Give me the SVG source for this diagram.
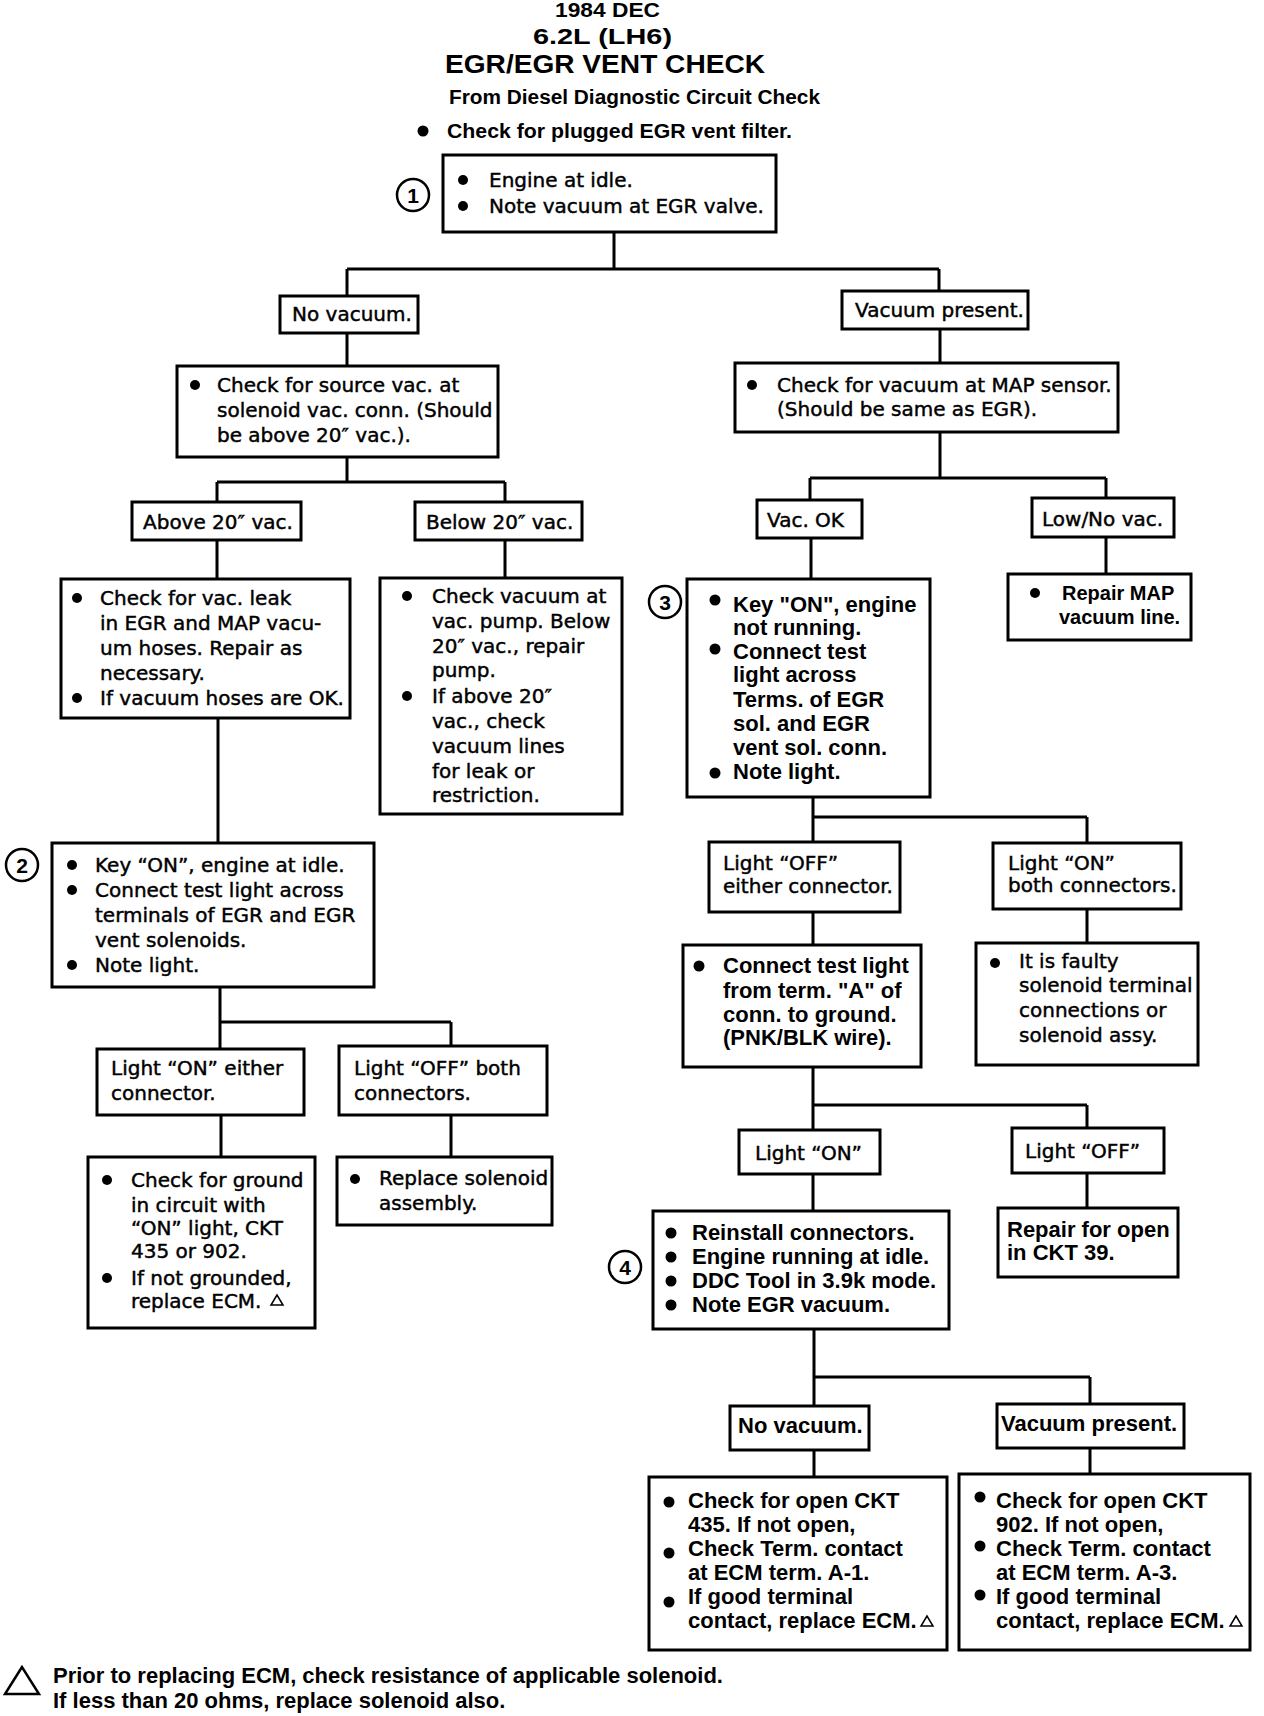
<svg xmlns="http://www.w3.org/2000/svg" width="1264" height="1716" viewBox="0 0 1264 1716">
<style>
.box{fill:#fff;stroke:#000;stroke-width:3}
.r{font-family:"DejaVu Sans",sans-serif;font-size:20px;fill:#000;stroke:#000;stroke-width:0.45}
.b{font-family:"Liberation Sans",Arial,sans-serif;font-weight:bold;font-size:22px;fill:#000}
.t{font-family:"Liberation Sans",Arial,sans-serif;font-weight:bold;fill:#000}
.dot{fill:#000}
.conn{fill:none;stroke:#000;stroke-width:3}
.circ{fill:#fff;stroke:#000;stroke-width:2.5}
.num{font-family:"Liberation Sans",Arial,sans-serif;font-weight:bold;font-size:21px;text-anchor:middle}
.tri{fill:none;stroke:#000;stroke-width:1.5}
</style>
<rect width="1264" height="1716" fill="#fff"/>

<g id="title">
<text class="t" x="555" y="17" font-size="20" textLength="105" lengthAdjust="spacingAndGlyphs">1984 DEC</text>
<text class="t" x="533" y="44" font-size="22" textLength="139" lengthAdjust="spacingAndGlyphs">6.2L (LH6)</text>
<text class="t" x="445" y="73" font-size="25" textLength="320" lengthAdjust="spacingAndGlyphs">EGR/EGR VENT CHECK</text>
<text class="t" x="449" y="104" font-size="20" textLength="371" lengthAdjust="spacingAndGlyphs">From Diesel Diagnostic Circuit Check</text>
<circle class="dot" cx="423" cy="131" r="5.5"/>
<text class="t" x="447" y="138" font-size="21" textLength="345" lengthAdjust="spacingAndGlyphs">Check for plugged EGR vent filter.</text>
</g>

<g id="connectors">
<path class="conn" d="M614 232V269M347 269H939M347 269V296M939 269V291"/>
<path class="conn" d="M347 333V366M940 329V363"/>
<path class="conn" d="M347 457V482M217 482H505M217 482V502M505 482V502"/>
<path class="conn" d="M217 540V579M505 540V578"/>
<path class="conn" d="M940 432V478M810 478H1106M810 478V500M1106 478V498"/>
<path class="conn" d="M811 538V579M1106 537V574"/>
<path class="conn" d="M218 718V843"/>
<path class="conn" d="M220 987V1022M220 1022H451M220 1022V1049M451 1022V1046"/>
<path class="conn" d="M221 1115V1157M451 1115V1157"/>
<path class="conn" d="M813 797V817M813 817H1087M813 817V842M1087 817V843"/>
<path class="conn" d="M813 912V945M1087 909V943"/>
<path class="conn" d="M813 1067V1105M813 1105H1087M813 1105V1130M1087 1105V1128"/>
<path class="conn" d="M813 1174V1211M1087 1173V1208"/>
<path class="conn" d="M814 1329V1377M814 1377H1090M814 1377V1406M1090 1377V1404"/>
<path class="conn" d="M814 1450V1477M1090 1448V1474"/>
</g>

<g id="n1">
<rect class="box" x="443" y="155" width="333" height="77"/>
<circle class="dot" cx="463" cy="180" r="5"/>
<circle class="dot" cx="463" cy="206" r="5"/>
<text class="r" x="489" y="187">Engine at idle.</text>
<text class="r" x="489" y="213">Note vacuum at EGR valve.</text>
<circle class="circ" cx="413" cy="195" r="16"/>
<text class="num" x="413" y="203">1</text>
</g>

<g id="n-novac1">
<rect class="box" x="280" y="296" width="138" height="37"/>
<text class="r" x="292" y="321">No vacuum.</text>
</g>

<g id="n-vacpres1">
<rect class="box" x="842" y="291" width="186" height="38"/>
<text class="r" x="855" y="317">Vacuum present.</text>
</g>

<g id="n-source">
<rect class="box" x="177" y="366" width="321" height="91"/>
<circle class="dot" cx="195" cy="385" r="5"/>
<text class="r"><tspan x="217" y="392">Check for source vac. at</tspan><tspan x="217" y="417">solenoid vac. conn. (Should</tspan><tspan x="217" y="442">be above 20″ vac.).</tspan></text>
</g>

<g id="n-map">
<rect class="box" x="735" y="363" width="383" height="69"/>
<circle class="dot" cx="752" cy="385" r="5"/>
<text class="r"><tspan x="777" y="392">Check for vacuum at MAP sensor.</tspan><tspan x="777" y="416">(Should be same as EGR).</tspan></text>
</g>

<g id="n-above">
<rect class="box" x="132" y="502" width="169" height="38"/>
<text class="r" x="143" y="529">Above 20″ vac.</text>
</g>

<g id="n-below">
<rect class="box" x="415" y="502" width="167" height="38"/>
<text class="r" x="426" y="529">Below 20″ vac.</text>
</g>

<g id="n-vacok">
<rect class="box" x="757" y="500" width="105" height="38"/>
<text class="r" x="767" y="527">Vac. OK</text>
</g>

<g id="n-lownovac">
<rect class="box" x="1032" y="498" width="142" height="39"/>
<text class="r" x="1042" y="526">Low/No vac.</text>
</g>

<g id="n-leak">
<rect class="box" x="61" y="579" width="289" height="139"/>
<circle class="dot" cx="77" cy="598" r="5"/>
<circle class="dot" cx="77" cy="698" r="5"/>
<text class="r"><tspan x="100" y="605">Check for vac. leak</tspan><tspan x="100" y="630">in EGR and MAP vacu-</tspan><tspan x="100" y="655">um hoses. Repair as</tspan><tspan x="100" y="680">necessary.</tspan><tspan x="100" y="705">If vacuum hoses are OK.</tspan></text>
</g>

<g id="n-pump">
<rect class="box" x="380" y="578" width="242" height="236"/>
<circle class="dot" cx="407" cy="596" r="5"/>
<circle class="dot" cx="407" cy="696" r="5"/>
<text class="r"><tspan x="432" y="603">Check vacuum at</tspan><tspan x="432" y="628">vac. pump. Below</tspan><tspan x="432" y="653">20″ vac., repair</tspan><tspan x="432" y="677">pump.</tspan><tspan x="432" y="703">If above 20″</tspan><tspan x="432" y="728">vac., check</tspan><tspan x="432" y="753">vacuum lines</tspan><tspan x="432" y="778">for leak or</tspan><tspan x="432" y="802">restriction.</tspan></text>
</g>

<g id="n3">
<rect class="box" x="687" y="579" width="243" height="218"/>
<circle class="dot" cx="715" cy="600" r="5.5"/>
<circle class="dot" cx="715" cy="649" r="5.5"/>
<circle class="dot" cx="715" cy="773" r="5.5"/>
<text class="b"><tspan x="733" y="612">Key "ON", engine</tspan><tspan x="733" y="635">not running.</tspan><tspan x="733" y="659">Connect test</tspan><tspan x="733" y="682">light across</tspan><tspan x="733" y="707">Terms. of EGR</tspan><tspan x="733" y="731">sol. and EGR</tspan><tspan x="733" y="755">vent sol. conn.</tspan><tspan x="733" y="779">Note light.</tspan></text>
<circle class="circ" cx="665" cy="602" r="16"/>
<text class="num" x="665" y="610">3</text>
</g>

<g id="n-repairmap">
<rect class="box" x="1008" y="574" width="183" height="66"/>
<circle class="dot" cx="1035" cy="593" r="5"/>
<text class="b" font-size="20"><tspan x="1062" y="600" font-size="20">Repair MAP</tspan><tspan x="1059" y="624" font-size="20">vacuum line.</tspan></text>
</g>

<g id="n2">
<rect class="box" x="52" y="843" width="322" height="144"/>
<circle class="dot" cx="72" cy="865" r="5"/>
<circle class="dot" cx="72" cy="890" r="5"/>
<circle class="dot" cx="72" cy="965" r="5"/>
<text class="r"><tspan x="95" y="872">Key “ON”, engine at idle.</tspan><tspan x="95" y="897">Connect test light across</tspan><tspan x="95" y="922">terminals of EGR and EGR</tspan><tspan x="95" y="947">vent solenoids.</tspan><tspan x="95" y="972">Note light.</tspan></text>
<circle class="circ" cx="22" cy="865" r="16"/>
<text class="num" x="22" y="873">2</text>
</g>

<g id="n-offeither">
<rect class="box" x="709" y="842" width="191" height="70"/>
<text class="r"><tspan x="723" y="870">Light “OFF”</tspan><tspan x="723" y="893">either connector.</tspan></text>
</g>

<g id="n-onboth">
<rect class="box" x="993" y="843" width="188" height="66"/>
<text class="r"><tspan x="1008" y="870">Light “ON”</tspan><tspan x="1008" y="892">both connectors.</tspan></text>
</g>

<g id="n-termA">
<rect class="box" x="683" y="945" width="238" height="122"/>
<circle class="dot" cx="699" cy="966" r="5.5"/>
<text class="b"><tspan x="723" y="973">Connect test light</tspan><tspan x="723" y="998">from term. "A" of</tspan><tspan x="723" y="1022">conn. to ground.</tspan><tspan x="723" y="1045">(PNK/BLK wire).</tspan></text>
</g>

<g id="n-faulty">
<rect class="box" x="976" y="943" width="222" height="122"/>
<circle class="dot" cx="995" cy="963" r="5"/>
<text class="r"><tspan x="1019" y="968">It is faulty</tspan><tspan x="1019" y="992">solenoid terminal</tspan><tspan x="1019" y="1017">connections or</tspan><tspan x="1019" y="1042">solenoid assy.</tspan></text>
</g>

<g id="n-oneither">
<rect class="box" x="97" y="1049" width="207" height="66"/>
<text class="r"><tspan x="111" y="1075">Light “ON” either</tspan><tspan x="111" y="1100">connector.</tspan></text>
</g>

<g id="n-offboth">
<rect class="box" x="339" y="1046" width="208" height="69"/>
<text class="r"><tspan x="354" y="1075">Light “OFF” both</tspan><tspan x="354" y="1100">connectors.</tspan></text>
</g>

<g id="n-ground">
<rect class="box" x="88" y="1157" width="227" height="171"/>
<circle class="dot" cx="107" cy="1180" r="5"/>
<circle class="dot" cx="107" cy="1278" r="5"/>
<text class="r"><tspan x="131" y="1187">Check for ground</tspan><tspan x="131" y="1212">in circuit with</tspan><tspan x="131" y="1235">“ON” light, CKT</tspan><tspan x="131" y="1258">435 or 902.</tspan><tspan x="131" y="1285">If not grounded,</tspan><tspan x="131" y="1308">replace ECM.</tspan></text>
<polygon class="tri" points="277,1295 271,1305 283,1305"/>
</g>

<g id="n-replsol">
<rect class="box" x="337" y="1157" width="215" height="68"/>
<circle class="dot" cx="355" cy="1179" r="5"/>
<text class="r"><tspan x="379" y="1185">Replace solenoid</tspan><tspan x="379" y="1210">assembly.</tspan></text>
</g>

<g id="n-lighton">
<rect class="box" x="739" y="1130" width="141" height="44"/>
<text class="r" x="755" y="1160">Light “ON”</text>
</g>

<g id="n-lightoff">
<rect class="box" x="1012" y="1128" width="152" height="45"/>
<text class="r" x="1025" y="1158">Light “OFF”</text>
</g>

<g id="n-ckt39">
<rect class="box" x="998" y="1208" width="180" height="69"/>
<text class="b"><tspan x="1007" y="1237">Repair for open</tspan><tspan x="1007" y="1260">in CKT 39.</tspan></text>
</g>

<g id="n4">
<rect class="box" x="653" y="1211" width="296" height="118"/>
<circle class="dot" cx="671" cy="1233" r="5.5"/>
<circle class="dot" cx="671" cy="1257" r="5.5"/>
<circle class="dot" cx="671" cy="1281" r="5.5"/>
<circle class="dot" cx="671" cy="1305" r="5.5"/>
<text class="b"><tspan x="692" y="1240">Reinstall connectors.</tspan><tspan x="692" y="1264">Engine running at idle.</tspan><tspan x="692" y="1288">DDC Tool in 3.9k mode.</tspan><tspan x="692" y="1312">Note EGR vacuum.</tspan></text>
<circle class="circ" cx="625" cy="1267" r="16"/>
<text class="num" x="625" y="1275">4</text>
</g>

<g id="n-novac2">
<rect class="box" x="730" y="1406" width="139" height="44"/>
<text class="b" x="738" y="1433">No vacuum.</text>
</g>

<g id="n-vacpres2">
<rect class="box" x="997" y="1404" width="187" height="44"/>
<text class="b" x="1001" y="1431">Vacuum present.</text>
</g>

<g id="n-ckt435">
<rect class="box" x="649" y="1477" width="298" height="173"/>
<circle class="dot" cx="669" cy="1502" r="5.5"/>
<circle class="dot" cx="669" cy="1553" r="5.5"/>
<circle class="dot" cx="669" cy="1602" r="5.5"/>
<text class="b"><tspan x="688" y="1508">Check for open CKT</tspan><tspan x="688" y="1532">435. If not open,</tspan><tspan x="688" y="1556">Check Term. contact</tspan><tspan x="688" y="1580">at ECM term. A-1.</tspan><tspan x="688" y="1604">If good terminal</tspan><tspan x="688" y="1628">contact, replace ECM.</tspan></text>
<polygon class="tri" points="927,1616 921,1626 933,1626"/>
</g>

<g id="n-ckt902">
<rect class="box" x="959" y="1474" width="291" height="176"/>
<circle class="dot" cx="980" cy="1497" r="5.5"/>
<circle class="dot" cx="980" cy="1546" r="5.5"/>
<circle class="dot" cx="980" cy="1595" r="5.5"/>
<text class="b"><tspan x="996" y="1508">Check for open CKT</tspan><tspan x="996" y="1532">902. If not open,</tspan><tspan x="996" y="1556">Check Term. contact</tspan><tspan x="996" y="1580">at ECM term. A-3.</tspan><tspan x="996" y="1604">If good terminal</tspan><tspan x="996" y="1628">contact, replace ECM.</tspan></text>
<polygon class="tri" points="1236,1616 1230,1626 1242,1626"/>
</g>

<g id="footnote">
<polygon fill="none" stroke="#000" stroke-width="2.5" points="22,1667 5,1694 39,1694"/>
<text class="b"><tspan x="53" y="1683">Prior to replacing ECM, check resistance of applicable solenoid.</tspan><tspan x="53" y="1708">If less than 20 ohms, replace solenoid also.</tspan></text>
</g>
</svg>
